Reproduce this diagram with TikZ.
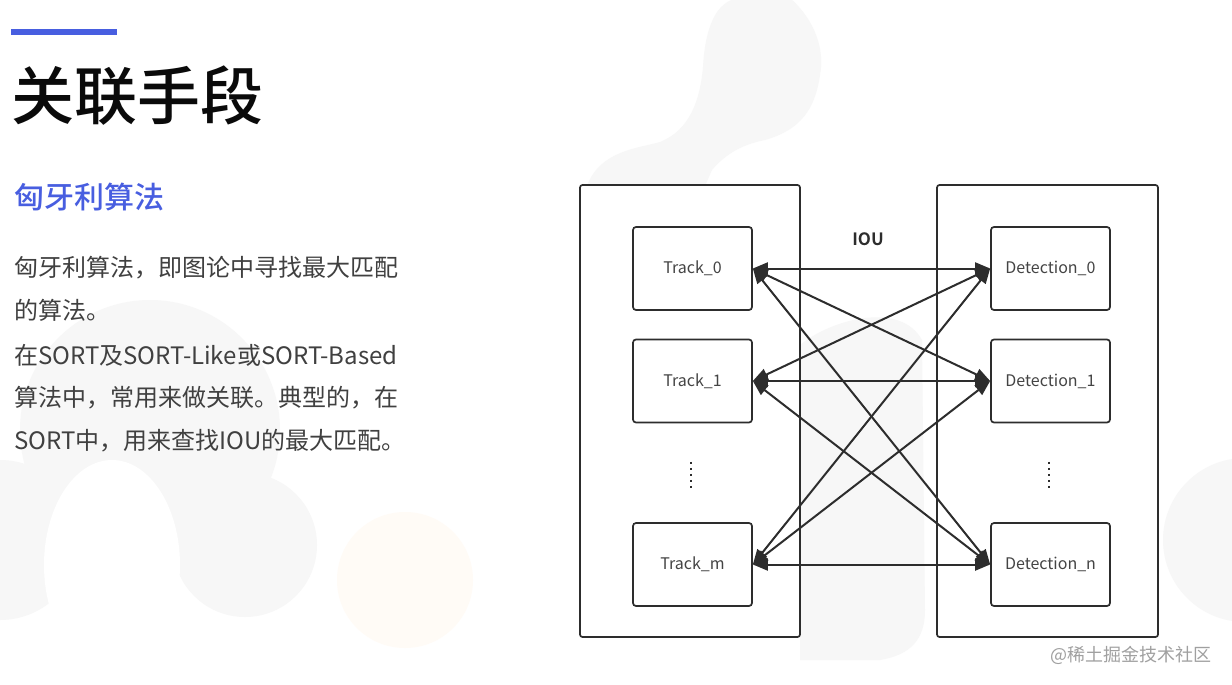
\documentclass[tikz,border=0pt]{standalone}
\usepackage{fontspec}
\setmainfont{Noto Sans CJK SC}[BoldFont={* Bold}]
\newfontfamily\mediumfont{Noto Sans CJK SC Medium}
\usepackage{xcolor}
\definecolor{slideblue}{RGB}{72,94,224}
\definecolor{titleblack}{RGB}{10,10,10}
\definecolor{bodygray}{RGB}{64,64,64}
\definecolor{linegray}{RGB}{45,45,45}
\definecolor{labelgray}{RGB}{68,68,68}
\definecolor{markgray}{RGB}{160,160,160}
\definecolor{blobgray}{RGB}{247,247,247}
\definecolor{bloborange}{RGB}{255,251,246}
\usepackage{tikz}
\usetikzlibrary{arrows.meta, positioning, calc}

\tikzset{
  groupbox/.style={draw=linegray, fill=white, line width=1.7pt, rounded corners=2.5pt},
  itembox/.style={draw=linegray, fill=white, line width=1.7pt, rounded corners=3pt,
    minimum width=119pt, minimum height=83pt, inner sep=0pt,
    font=\fontsize{16}{18}\selectfont, text=labelgray},
  iouarrow/.style={draw=linegray, line width=2pt,
    {Triangle[length=15pt,width=12pt]}-{Triangle[length=15pt,width=12pt]}},
  vdotline/.style={draw=linegray, line width=2pt, dash pattern=on 2pt off 4pt},
  bodyline/.style={anchor=west, inner sep=0pt, font=\fontsize{24}{28}\selectfont, text=bodygray}
}

\begin{document}
\begin{tikzpicture}[x=1pt, y=-1pt]
  \useasboundingbox (0,0) rectangle (1232,685);
  \fill[white] (0,0) rectangle (1232,685);

  % background blobs
  \fill[blobgray] (587,186) .. controls (600,150) and (640,148) .. (660,142)
    .. controls (690,130) and (700,100) .. (703,67)
    .. controls (705,30) and (715,0) .. (740,-2) -- (790,-2)
    .. controls (815,20) and (825,50) .. (820,75)
    .. controls (815,110) and (800,130) .. (765,140)
    .. controls (740,145) and (725,155) .. (712,170) -- (705,186) -- cycle;
  \fill[blobgray] (800,345) .. controls (830,320) and (900,300) .. (922,340)
    -- (925,610) .. controls (925,640) and (910,655) .. (880,660) -- (800,660) -- cycle;
  \fill[blobgray] (1245,540) circle (82);
  \fill[blobgray] (150,430) circle (130);
  \fill[blobgray] (0,540) circle (80);
  \fill[blobgray] (245,545) circle (72);
  \fill[white] (112,565) ellipse (68 and 105);
  \fill[bloborange] (405,580) circle (68);

  % heading
  \fill[slideblue] (11,29) rectangle (117,35);
  \node[anchor=west, inner sep=0pt, font=\fontsize{63}{70}\selectfont\mediumfont, text=titleblack] (title) at (11,96) {关联手段};
  \node[anchor=west, inner sep=0pt, font=\fontsize{30}{34}\selectfont\mediumfont, text=slideblue] (subtitle) at (14,197) {匈牙利算法};

  % body text
  \node[bodyline] (line1) at (14,268) {匈牙利算法，即图论中寻找最大匹配};
  \node[bodyline] (line2) at (14,310) {的算法。};
  \node[bodyline] (line3) at (14,355) {在SORT及SORT-Like或SORT-Based};
  \node[bodyline] (line4) at (14,398) {算法中，常用来做关联。典型的，在};
  \node[bodyline] (line5) at (14,441) {SORT中，用来查找IOU的最大匹配。};

  % track and detection groups
  \draw[groupbox] (580,185) rectangle (800,637);
  \draw[groupbox] (937,185) rectangle (1158,637);

  \node[itembox] (t0) at (692.5,268.5) {Track\_0};
  \node[itembox] (t1) at (692.5,381) {Track\_1};
  \node[itembox] (tm) at (692.5,564.5) {Track\_m};
  \node[itembox] (d0) at (1050.5,268.5) {Detection\_0};
  \node[itembox] (d1) at (1050.5,381) {Detection\_1};
  \node[itembox] (dn) at (1050.5,564.5) {Detection\_n};

  \coordinate (tdots) at ($(t1.south)!0.5!(tm.north)+(-2,2)$);
  \coordinate (ddots) at ($(d1.south)!0.5!(dn.north)+(-2,2)$);
  \draw[vdotline] ($(tdots)+(0,-13)$) -- ($(tdots)+(0,13)$);
  \draw[vdotline] ($(ddots)+(0,-13)$) -- ($(ddots)+(0,13)$);

  \node[font=\fontsize{17}{20}\selectfont\bfseries, text=linegray] (iou) at (868,239) {IOU};

  % matching pairs
  \foreach \t in {0,1,m}
    \foreach \d in {0,1,n}
      \draw[iouarrow] (t\t.east) -- (d\d.west);

  % watermark
  \node[anchor=east, inner sep=0pt, font=\fontsize{18}{20}\selectfont, text=markgray] (mark) at (1212,655) {@稀土掘金技术社区};
\end{tikzpicture}
\end{document}
